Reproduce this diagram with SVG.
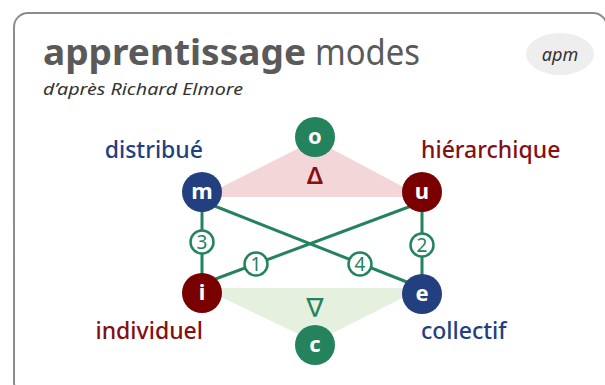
<svg xmlns="http://www.w3.org/2000/svg" width="605" height="385" viewBox="0 0 605 385">
  <style>
    text { font-family: "Noto Sans", "Liberation Sans", sans-serif; }
    .title-b { font-size: 36px; font-weight: 700; fill: #5a5a5a; }
    .title-r { font-size: 36px; font-weight: 400; fill: #5a5a5a; }
    .sub { font-size: 16px; font-style: italic; fill: #333333; }
    .tag { font-size: 18px; font-style: italic; fill: #333333; }
    .lbl { font-size: 23px; font-weight: 500; }
    .blue { fill: #223f80; }
    .red { fill: #850f12; }
    .node-letter { font-size: 22px; font-weight: 700; fill: #ffffff; text-anchor: middle; }
    .num { font-size: 19px; font-weight: 400; fill: #24835d; text-anchor: middle; }
    .numc { fill: #ffffff; stroke: #24835d; stroke-width: 2.5; }
    .edge { stroke: #24835d; stroke-width: 3; fill: none; }
  </style>

  <rect id="card" x="14" y="13" width="593" height="383" rx="14" ry="14" fill="#ffffff" stroke="#8c8c8c" stroke-width="2"/>

  <g id="title">
    <text class="title-b" x="43" y="65" textLength="263" lengthAdjust="spacingAndGlyphs">apprentissage</text>
    <text class="title-r" x="315" y="65" textLength="105" lengthAdjust="spacingAndGlyphs">modes</text>
    <text class="sub" x="43" y="95" textLength="200" lengthAdjust="spacingAndGlyphs">d’après Richard Elmore</text>
  </g>

  <g id="tag">
    <ellipse cx="560" cy="54" rx="34" ry="21" fill="#eeeeee"/>
    <text class="tag" x="560" y="61" text-anchor="middle">apm</text>
  </g>

  <g id="triangles">
    <polygon points="202,197 315,140 422,197" fill="#f2d6d8"/>
    <polygon points="202,288 315,342 422,288" fill="#e5f0df"/>
    <text x="315" y="184" text-anchor="middle" font-size="24" font-weight="600" fill="#850f12">Δ</text>
    <text x="315" y="317" text-anchor="middle" font-size="26" fill="#24835d" style="font-family:'DejaVu Sans',sans-serif">∇</text>
  </g>

  <g id="connectors">
    <line class="edge" x1="202" y1="192" x2="202" y2="292"/>
    <line class="edge" x1="422" y1="192" x2="422" y2="294"/>
    <line class="edge" x1="202" y1="201" x2="422" y2="288"/>
    <line class="edge" x1="422" y1="202" x2="202" y2="284"/>
    <g id="num3"><circle class="numc" cx="202" cy="242" r="11.5"/><text class="num" x="202" y="249">3</text></g>
    <g id="num2"><circle class="numc" cx="422" cy="245" r="11.5"/><text class="num" x="422" y="252">2</text></g>
    <g id="num1"><circle class="numc" cx="256" cy="264" r="11.5"/><text class="num" x="256" y="271">1</text></g>
    <g id="num4"><circle class="numc" cx="360" cy="264" r="11.5"/><text class="num" x="360" y="271">4</text></g>
  </g>

  <g id="node-o"><circle cx="315" cy="137" r="20" fill="#24835d"/><text class="node-letter" x="315" y="144">o</text></g>
  <g id="node-m"><circle cx="202" cy="192" r="20" fill="#223f80"/><text class="node-letter" x="202" y="199">m</text><text class="lbl blue" x="203" y="158" text-anchor="end">distribué</text></g>
  <g id="node-u"><circle cx="422" cy="192" r="20" fill="#7a0000"/><text class="node-letter" x="422" y="199">u</text><text class="lbl red" x="421" y="158">hiérarchique</text></g>
  <g id="node-i"><circle cx="202" cy="293" r="20" fill="#7a0000"/><text class="node-letter" x="202" y="300">i</text><text class="lbl red" x="203" y="339" text-anchor="end">individuel</text></g>
  <g id="node-e"><circle cx="422" cy="294" r="20" fill="#223f80"/><text class="node-letter" x="422" y="301">e</text><text class="lbl blue" x="421" y="339">collectif</text></g>
  <g id="node-c"><circle cx="315" cy="345" r="20" fill="#24835d"/><text class="node-letter" x="315" y="352">c</text></g>
</svg>
